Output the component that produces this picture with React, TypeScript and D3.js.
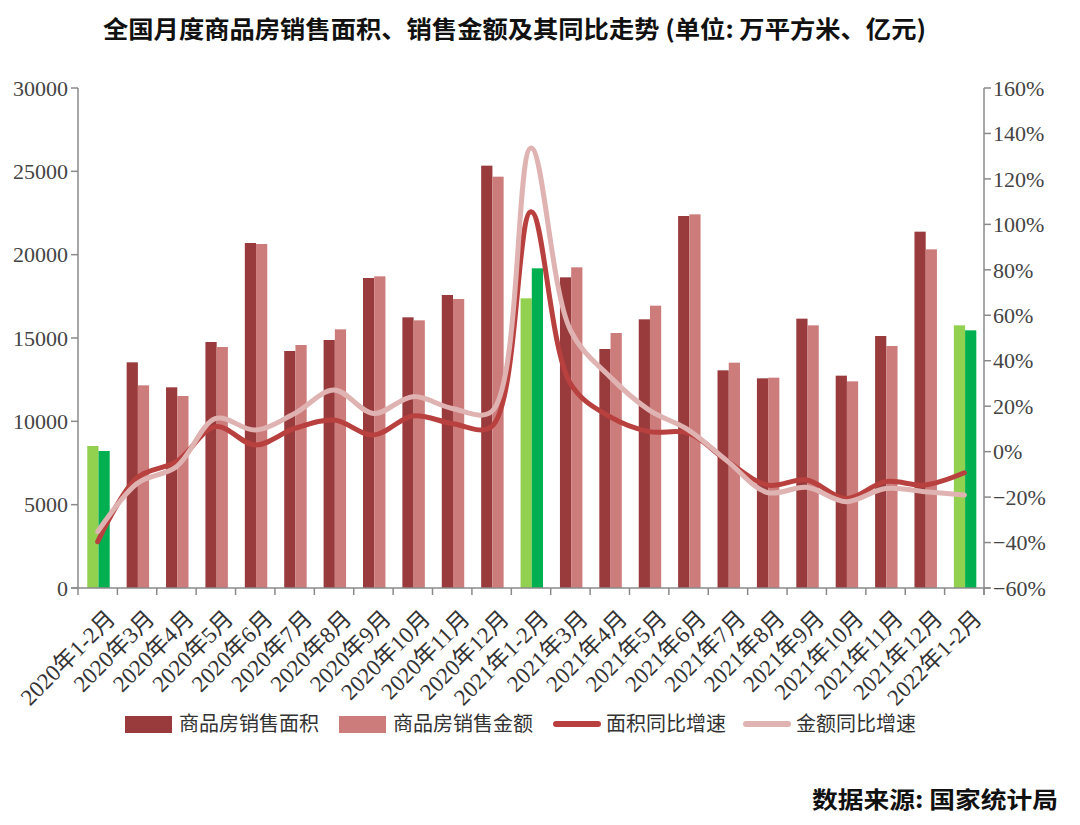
import React from 'react';
import * as d3 from 'd3';

const categories = [
  '2020年1-2月', '2020年3月', '2020年4月', '2020年5月', '2020年6月', '2020年7月',
  '2020年8月', '2020年9月', '2020年10月', '2020年11月', '2020年12月', '2021年1-2月',
  '2021年3月', '2021年4月', '2021年5月', '2021年6月', '2021年7月', '2021年8月',
  '2021年9月', '2021年10月', '2021年11月', '2021年12月', '2022年1-2月',
];
const areaValues = [8520, 13540, 12040, 14760, 20700, 14220, 14880, 18600, 16240, 17580, 25340, 17380, 18640, 14340, 16120, 22320, 13060, 12580, 16160, 12740, 15120, 21380, 15760];
const amountValues = [8220, 12160, 11520, 14460, 20640, 14580, 15520, 18700, 16060, 17340, 24680, 19180, 19240, 15300, 16940, 22420, 13520, 12620, 15760, 12400, 14520, 20320, 15460];
const areaYoY = [-39.6, -11.5, -4.4, 11, 2.9, 10.2, 13.9, 7.3, 15.7, 12.4, 11, 105.6, 30, 15.4, 8.8, 8.1, -4.4, -14.7, -12.5, -20.6, -13.2, -14.7, -9.3];
const amountYoY = [-35.2, -14, -6.6, 14.6, 9.5, 16.8, 27.1, 16.8, 24.2, 19, 17.6, 133.6, 53.5, 33, 18.3, 9.5, -4.4, -18, -15.7, -22, -16.2, -17.6, -19.1];
const leftTicks = [0, 5000, 10000, 15000, 20000, 25000, 30000];
const rightTicks = [-60, -40, -20, 0, 20, 40, 60, 80, 100, 120, 140, 160];
const janFeb = ['2020年1-2月', '2021年1-2月', '2022年1-2月'];

const COLORS = {
  area: '#993b3c',
  amount: '#cd7c7c',
  areaGreen: '#92d050',
  amountGreen: '#00b050',
  areaLine: '#b8413f',
  amountLine: '#dfb3b2',
  axis: '#8a8a8a',
};

const W = 1080, H = 825;
const L = 78, R = 984, T = 88, B = 588;
const NUM_FONT = '"Liberation Serif", "Noto Sans CJK SC", serif';

export default function App() {
  const x = d3.scaleBand<string>().domain(categories).range([L, R]).padding(0);
  const bw = x.bandwidth();
  const xInner = d3.scaleBand<string>().domain(['area', 'amount']).range([bw * 0.235, bw * 0.805]);
  const yL = d3.scaleLinear().domain([0, 30000]).range([B, T]);
  const yR = d3.scaleLinear().domain([-60, 160]).range([B, T]);
  const cx = (c: string) => (x(c) as number) + bw / 2;

  const line = (vals: number[]) =>
    d3.line<number>()
      .x((_, i) => cx(categories[i]))
      .y((v) => yR(v))
      .curve(d3.curveCatmullRom.alpha(0.5))(vals) as string;

  const tickXs = categories.map((c) => x(c) as number).concat([R]);

  return (
    <svg width={W} height={H} style={{ position: 'absolute', left: 0, top: 0, background: '#fff' }}>
      <rect width={W} height={H} fill="#fff" />
      <text x={103} y={38} fontSize={24} fontWeight="bold" fontFamily='"Noto Sans CJK SC", sans-serif'
        textLength={823} lengthAdjust="spacingAndGlyphs" fill="#111">
        全国月度商品房销售面积、销售金额及其同比走势 (单位: 万平方米、亿元)
      </text>

      {/* bars */}
      {categories.map((c, i) => {
        const g = janFeb.includes(c);
        return (
          <g key={c}>
            <rect x={(x(c) as number) + (xInner('area') as number)} y={yL(areaValues[i])}
              width={xInner.bandwidth()} height={B - yL(areaValues[i])}
              fill={g ? COLORS.areaGreen : COLORS.area} />
            <rect x={(x(c) as number) + (xInner('amount') as number)} y={yL(amountValues[i])}
              width={xInner.bandwidth()} height={B - yL(amountValues[i])}
              fill={g ? COLORS.amountGreen : COLORS.amount} />
          </g>
        );
      })}

      {/* lines */}
      <path d={line(areaYoY)} fill="none" stroke={COLORS.areaLine} strokeWidth={5} strokeLinecap="round" strokeLinejoin="round" />
      <path d={line(amountYoY)} fill="none" stroke={COLORS.amountLine} strokeWidth={5} strokeLinecap="round" strokeLinejoin="round" />

      {/* left axis */}
      <line x1={L} x2={L} y1={T} y2={B} stroke={COLORS.axis} strokeWidth={1.5} />
      {leftTicks.map((t) => (
        <g key={t}>
          <line x1={L - 7} x2={L} y1={yL(t)} y2={yL(t)} stroke={COLORS.axis} strokeWidth={1.5} />
          <text x={L - 10} y={yL(t)} dy="0.35em" textAnchor="end" fontSize={22} fontFamily={NUM_FONT} fill="#444">{t}</text>
        </g>
      ))}

      {/* right axis */}
      <line x1={R} x2={R} y1={T} y2={B + 7} stroke={COLORS.axis} strokeWidth={1.5} />
      {rightTicks.map((t) => (
        <g key={t}>
          <line x1={R} x2={R + 7} y1={yR(t)} y2={yR(t)} stroke={COLORS.axis} strokeWidth={1.5} />
          <text x={R + 9} y={yR(t)} dy="0.35em" textAnchor="start" fontSize={22} fontFamily={NUM_FONT} fill="#444">
            {t < 0 ? `−${-t}%` : `${t}%`}
          </text>
        </g>
      ))}

      {/* x axis */}
      <line x1={L - 7} x2={R + 6} y1={B} y2={B} stroke={COLORS.axis} strokeWidth={1.5} />
      {tickXs.map((tx, i) => (
        <line key={i} x1={tx} x2={tx} y1={B} y2={B + 7} stroke={COLORS.axis} strokeWidth={1.5} />
      ))}
      {categories.map((c) => (
        <text key={c} transform={`translate(${cx(c) + 19},${B + 32}) rotate(-45)`} textAnchor="end"
          fontSize={23} fontFamily={NUM_FONT} fill="#333">{c}</text>
      ))}

      {/* legend */}
      <g fontFamily='"Noto Sans CJK SC", sans-serif' fontSize={20} fill="#333">
        <rect x={125} y={716} width={47} height={17} fill={COLORS.area} />
        <text x={179} y={724} dy="0.35em">商品房销售面积</text>
        <rect x={339} y={716} width={47} height={17} fill={COLORS.amount} />
        <text x={393} y={724} dy="0.35em">商品房销售金额</text>
        <line x1={556} x2={598} y1={724} y2={724} stroke={COLORS.areaLine} strokeWidth={6} strokeLinecap="round" />
        <text x={606} y={724} dy="0.35em">面积同比增速</text>
        <line x1={746} x2={788} y1={724} y2={724} stroke={COLORS.amountLine} strokeWidth={6} strokeLinecap="round" />
        <text x={796} y={724} dy="0.35em">金额同比增速</text>
      </g>

      <text x={812} y={808} fontSize={23} fontWeight="bold" fontFamily='"Noto Sans CJK SC", sans-serif'
        textLength={246} lengthAdjust="spacingAndGlyphs" fill="#111">数据来源: 国家统计局</text>
    </svg>
  );
}
